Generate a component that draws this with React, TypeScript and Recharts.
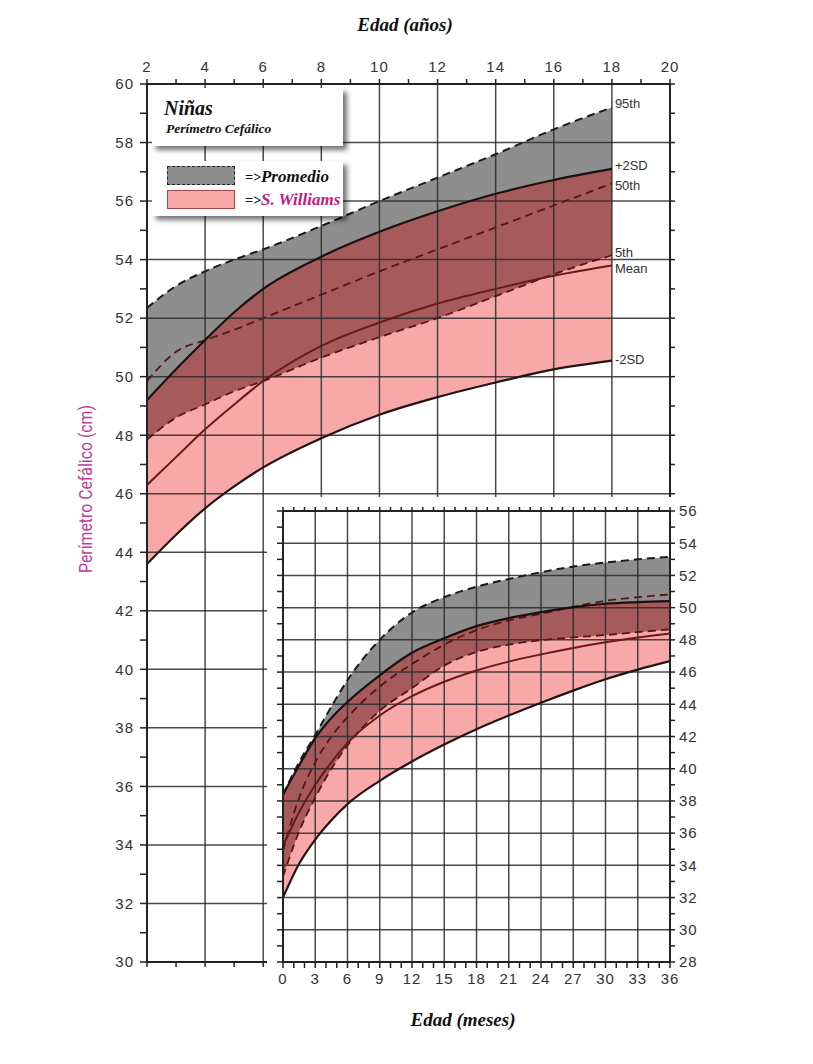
import React from "react";
import {
  ComposedChart,
  Area,
  Line,
  XAxis,
  YAxis,
  CartesianGrid,
} from "recharts";

// ---- main chart: age in years ----
const ageYears = [2, 3, 4, 5, 6, 8, 10, 12, 14, 16, 18];
const p95Years = [52.35, 53.1, 53.6, 54.0, 54.35, 55.15, 56.0, 56.8, 57.6, 58.45, 59.2];
const p50Years = [49.85, 50.85, 51.25, 51.6, 52.0, 52.8, 53.6, 54.35, 55.1, 55.85, 56.6];
const p5Years = [47.85, 48.6, 49.05, 49.5, 49.85, 50.65, 51.35, 52.0, 52.75, 53.5, 54.15];
const plus2sdYears = [49.2, 50.25, 51.25, 52.2, 53.0, 54.1, 54.95, 55.65, 56.25, 56.72, 57.1];
const meanYears = [46.3, 47.25, 48.2, 49.05, 49.85, 51.05, 51.85, 52.5, 53.0, 53.45, 53.8];
const minus2sdYears = [43.6, 44.6, 45.5, 46.25, 46.9, 47.9, 48.7, 49.3, 49.8, 50.25, 50.55];

// ---- inset chart: age in months ----
const ageMonths = [0, 1.5, 3, 4.5, 6, 9, 12, 15, 18, 21, 24, 27, 30, 33, 36];
const p95Months = [38.4, 40.4, 42.1, 43.85, 45.5, 48.0, 49.7, 50.65, 51.3, 51.78, 52.2, 52.55, 52.8, 53.0, 53.15];
const p50Months = [34.9, 38.2, 40.4, 42.0, 43.2, 45.1, 46.5, 47.7, 48.6, 49.2, 49.62, 50.05, 50.42, 50.65, 50.82];
const p5Months = [33.3, 36.1, 38.2, 40.0, 41.45, 43.6, 45.0, 46.4, 47.25, 47.7, 47.98, 48.15, 48.3, 48.48, 48.65];
const plus2sdMonths = [38.4, 40.2, 41.9, 43.15, 44.15, 45.8, 47.2, 48.1, 48.85, 49.35, 49.72, 50.03, 50.24, 50.34, 50.4];
const meanMonths = [35.2, 37.3, 39.0, 40.4, 41.6, 43.3, 44.5, 45.4, 46.1, 46.65, 47.1, 47.5, 47.85, 48.15, 48.4];
const minus2sdMonths = [32.0, 34.1, 35.6, 36.8, 37.8, 39.25, 40.45, 41.5, 42.45, 43.3, 44.1, 44.85, 45.55, 46.15, 46.68];

// ---- ticks and grid values ----
const yearTicks = [2, 3, 4, 5, 6, 7, 8, 9, 10, 11, 12, 13, 14, 15, 16, 17, 18, 19, 20];
const yearGrid = [2, 4, 6, 8, 10, 12, 14, 16, 18, 20];
const cmTicksMain = [30, 31, 32, 33, 34, 35, 36, 37, 38, 39, 40, 41, 42, 43, 44, 45, 46, 47, 48, 49, 50, 51, 52, 53, 54, 55, 56, 57, 58, 59, 60];
const cmGridMain = [30, 32, 34, 36, 38, 40, 42, 44, 46, 48, 50, 52, 54, 56, 58, 60];
const monthTicks = [0, 1, 2, 3, 4, 5, 6, 7, 8, 9, 10, 11, 12, 13, 14, 15, 16, 17, 18, 19, 20, 21, 22, 23, 24, 25, 26, 27, 28, 29, 30, 31, 32, 33, 34, 35, 36];
const monthGrid = [0, 3, 6, 9, 12, 15, 18, 21, 24, 27, 30, 33, 36];
const cmTicksInset = [28, 29, 30, 31, 32, 33, 34, 35, 36, 37, 38, 39, 40, 41, 42, 43, 44, 45, 46, 47, 48, 49, 50, 51, 52, 53, 54, 55, 56];
const cmGridInset = [28, 30, 32, 34, 36, 38, 40, 42, 44, 46, 48, 50, 52, 54, 56];

const GREY = "#8e8e8e";
const PINK = "#f9a8aa";
const BOTH = "#a65a5c";
const AXIS = "#222";
const GRID = "#2a2a2a";
const SERIF = "'Liberation Serif', 'Times New Roman', serif";
const SANS = "'Liberation Sans', Arial, sans-serif";

function buildRows(ages, p95, p50, p5, plus2, mean, minus2) {
  return ages.map((age, i) => ({
    age,
    p95: p95[i],
    p50: p50[i],
    p5: p5[i],
    plus2: plus2[i],
    mean: mean[i],
    minus2: minus2[i],
    grey: [p5[i], p95[i]],
    pink: [minus2[i], plus2[i]],
    both: [Math.max(p5[i], minus2[i]), Math.min(p95[i], plus2[i])],
  }));
}

const mainRows = buildRows(ageYears, p95Years, p50Years, p5Years, plus2sdYears, meanYears, minus2sdYears);
const insetRows = buildRows(ageMonths, p95Months, p50Months, p5Months, plus2sdMonths, meanMonths, minus2sdMonths);

const tickText = { fill: "#333", fontSize: 15, fontFamily: SANS, letterSpacing: 1 };
const every = (n) => (v) => (v % n === 0 ? String(v) : "");
const blank = () => "";
const axisLine = { stroke: AXIS, strokeWidth: 2 };
const tickLine = { stroke: AXIS, strokeWidth: 1.5 };

const endLabel = (text, dy, last) => (props) => {
  const { x, y, index } = props;
  if (index !== last) return <g key={`l${index}`} />;
  return (
    <text
      key={`l${index}`}
      x={x + 3}
      y={y + dy}
      fill="#333"
      fontSize={13}
      fontFamily={SANS}
      dominantBaseline="middle"
    >
      {text}
    </text>
  );
};

function Fills({ rows, domainX, domainY, margin }) {
  return (
    <div style={{ position: "absolute", left: 0, top: 0 }}>
      <ComposedChart width={813} height={1064} data={rows} margin={margin}>
        <XAxis dataKey="age" type="number" domain={domainX} hide allowDataOverflow />
        <YAxis type="number" domain={domainY} hide allowDataOverflow />
        <Area type="monotone" dataKey="grey" stroke="none" fill={GREY} fillOpacity={1} isAnimationActive={false} />
        <Area type="monotone" dataKey="pink" stroke="none" fill={PINK} fillOpacity={1} isAnimationActive={false} />
        <Area type="monotone" dataKey="both" stroke="none" fill={BOTH} fillOpacity={1} isAnimationActive={false} />
      </ComposedChart>
    </div>
  );
}

function Curves({ rows, labels }) {
  const last = rows.length - 1;
  const lbl = (t, dy) => (labels ? endLabel(t, dy, last) : false);
  return (
    <>
      <Line type="monotone" dataKey="p95" stroke="#1a1a1a" strokeWidth={2} strokeDasharray="8 5" dot={false} isAnimationActive={false} label={lbl("95th", -3)} />
      <Line type="monotone" dataKey="p50" stroke="#561616" strokeWidth={1.8} strokeDasharray="8 5" dot={false} isAnimationActive={false} label={lbl("50th", 3)} />
      <Line type="monotone" dataKey="p5" stroke="#561616" strokeWidth={1.8} strokeDasharray="8 5" dot={false} isAnimationActive={false} label={lbl("5th", -2)} />
      <Line type="monotone" dataKey="plus2" stroke="#1c1010" strokeWidth={2.2} dot={false} isAnimationActive={false} label={lbl("+2SD", -2)} />
      <Line type="monotone" dataKey="mean" stroke="#6a1818" strokeWidth={2} dot={false} isAnimationActive={false} label={lbl("Mean", 4)} />
      <Line type="monotone" dataKey="minus2" stroke="#221414" strokeWidth={2.2} dot={false} isAnimationActive={false} label={lbl("-2SD", 0)} />
    </>
  );
}

function MainOverlay() {
  return (
    <div style={{ position: "absolute", left: 0, top: 0 }}>
      <ComposedChart width={813} height={1064} data={mainRows} margin={{ top: 54, right: 83, bottom: 72, left: 87 }}>
        <CartesianGrid horizontalValues={cmGridMain} verticalValues={yearGrid} stroke={GRID} strokeWidth={1.5} strokeOpacity={0.85} />
        <XAxis dataKey="age" type="number" domain={[2, 20]} ticks={yearTicks} interval={0} orientation="top" height={30} tickSize={5} tickMargin={7} tickFormatter={every(2)} tick={tickText} axisLine={axisLine} tickLine={tickLine} allowDataOverflow />
        <XAxis xAxisId="b" dataKey="age" type="number" domain={[2, 20]} ticks={yearTicks} interval={0} orientation="bottom" height={30} tickSize={5} tickFormatter={blank} tick={tickText} axisLine={axisLine} tickLine={tickLine} allowDataOverflow />
        <YAxis type="number" domain={[30, 60]} ticks={cmTicksMain} interval={0} width={60} tickSize={7} tickMargin={6} tickFormatter={every(2)} tick={tickText} axisLine={axisLine} tickLine={tickLine} allowDataOverflow />
        <YAxis yAxisId="r" orientation="right" type="number" domain={[30, 60]} ticks={cmTicksMain} interval={0} width={60} tickSize={5} tickFormatter={blank} tick={tickText} axisLine={axisLine} tickLine={tickLine} allowDataOverflow />
        {Curves({ rows: mainRows, labels: true })}
      </ComposedChart>
    </div>
  );
}

function InsetOverlay() {
  return (
    <div style={{ position: "absolute", left: 0, top: 0 }}>
      <ComposedChart width={813} height={1064} data={insetRows} margin={{ top: 481, right: 83, bottom: 72, left: 223 }}>
        <CartesianGrid horizontalValues={cmGridInset} verticalValues={monthGrid} stroke={GRID} strokeWidth={1.5} strokeOpacity={0.85} />
        <XAxis dataKey="age" type="number" domain={[0, 36]} ticks={monthTicks} interval={0} orientation="bottom" height={30} tickSize={6} tickMargin={5} tickFormatter={every(3)} tick={tickText} axisLine={axisLine} tickLine={tickLine} allowDataOverflow />
        <XAxis xAxisId="t" dataKey="age" type="number" domain={[0, 36]} ticks={monthTicks} interval={0} orientation="top" height={30} tickSize={4} tickFormatter={blank} tick={tickText} axisLine={axisLine} tickLine={tickLine} allowDataOverflow />
        <YAxis orientation="right" type="number" domain={[28, 56]} ticks={cmTicksInset} interval={0} width={60} tickSize={5} tickMargin={4} tickFormatter={every(2)} tick={tickText} axisLine={axisLine} tickLine={tickLine} allowDataOverflow />
        <YAxis yAxisId="l" type="number" domain={[28, 56]} ticks={cmTicksInset} interval={0} width={60} tickSize={6} tickFormatter={blank} tick={tickText} axisLine={axisLine} tickLine={tickLine} allowDataOverflow />
        {Curves({ rows: insetRows, labels: false })}
      </ComposedChart>
    </div>
  );
}

const boxStyle = {
  position: "absolute",
  left: 152,
  width: 191,
  background: "#fff",
  boxShadow: "4px 4px 5px rgba(0,0,0,0.55)",
};

export default function App() {
  return (
    <div style={{ position: "absolute", left: 0, top: 0, width: 813, height: 1064, background: "#fff", overflow: "hidden" }}>
      <Fills rows={mainRows} domainX={[2, 20]} domainY={[30, 60]} margin={{ top: 84, right: 143, bottom: 102, left: 147 }} />
      <MainOverlay />
      <div style={{ position: "absolute", left: 267, top: 497, width: 546, height: 567, background: "#fff" }} />
      <Fills rows={insetRows} domainX={[0, 36]} domainY={[28, 56]} margin={{ top: 511, right: 143, bottom: 102, left: 283 }} />
      <InsetOverlay />

      <div style={{ ...boxStyle, top: 88, height: 58 }} />
      <div style={{ ...boxStyle, top: 161, height: 55 }} />
      <div style={{ position: "absolute", left: 167, top: 166, width: 66, height: 17, background: GREY, border: "1.5px dashed #222" }} />
      <div style={{ position: "absolute", left: 167, top: 190, width: 66, height: 17, background: PINK, border: "1px solid #a04848" }} />

      <svg width={813} height={1064} style={{ position: "absolute", left: 0, top: 0 }}>
        <g fontFamily={SERIF} fontWeight="bold" fontStyle="italic">
          <text x={405} y={31} fontSize={19} textAnchor="middle" fill="#111">Edad (años)</text>
          <text x={463} y={1026} fontSize={19} textAnchor="middle" fill="#111">Edad (meses)</text>
          <text x={164} y={115} fontSize={20} fill="#111">Niñas</text>
          <text x={166} y={133} fontSize={13.5} fill="#111">Perímetro Cefálico</text>
          <text x={245} y={182} fontSize={17} fill="#111">
            <tspan fontSize={14}>=&gt;</tspan>Promedio
          </text>
          <text x={245} y={205} fontSize={17} fill="#111">
            <tspan fontSize={14}>=&gt;</tspan>
            <tspan fill="#c8187f">S. Williams</tspan>
          </text>
        </g>
        <text
          x={87}
          y={489}
          transform="rotate(-90 87 489)"
          textAnchor="middle"
          dominantBaseline="middle"
          fontSize={18}
          textLength={168}
          lengthAdjust="spacingAndGlyphs"
          fontFamily="'Liberation Sans Narrow', 'Roboto', sans-serif"
          fill="#c03c9c"
        >
          Perímetro Cefálico (cm)
        </text>
      </svg>
    </div>
  );
}
